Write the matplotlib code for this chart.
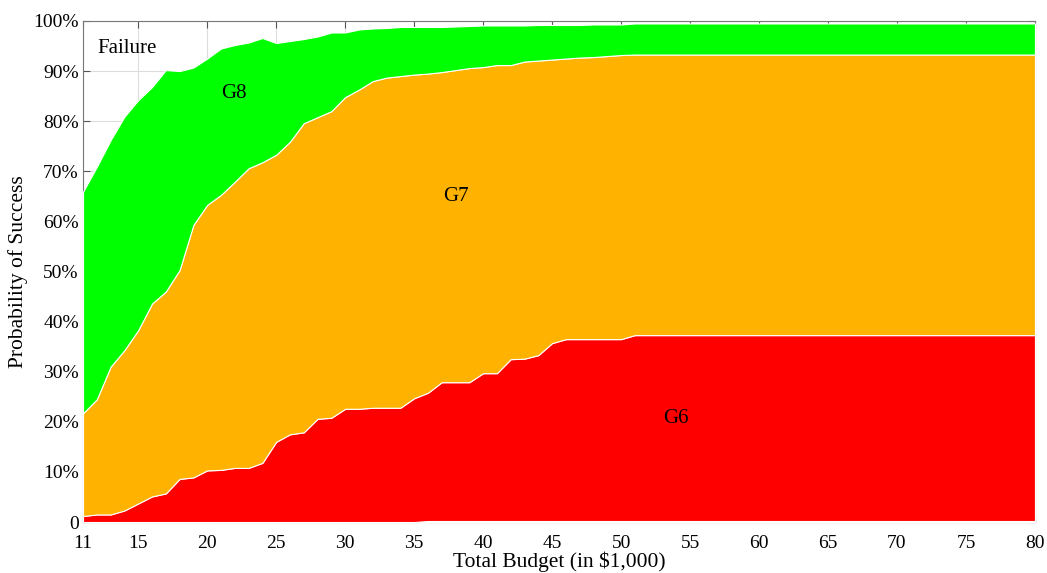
import matplotlib
matplotlib.use("Agg")
import matplotlib.pyplot as plt
import numpy as np

plt.rcParams['font.family'] = ['Liberation Serif', 'DejaVu Serif']

budget = list(range(11, 81))

# cumulative tops (percent)
g5_top = [0.0]*25 + [0.2]*45  # tiny bottom layer (x=11..35 zero)
g6_top = [1.2, 1.5, 1.5, 2.3, 3.7, 5.1, 5.7, 8.6, 8.9, 10.3,
          10.4, 10.8, 10.8, 11.8, 16.0, 17.5, 17.9, 20.6, 20.8, 22.6,
          22.6, 22.8, 22.8, 22.8, 24.7, 25.8, 27.9, 27.9, 27.9, 29.7,
          29.7, 32.5, 32.6, 33.3, 35.7, 36.5, 36.5, 36.5, 36.5, 36.5] + [37.3]*30
g7_top = [21.7, 24.5, 31.0, 34.3, 38.3, 43.6, 46.0, 50.3, 59.3, 63.3,
          65.3, 67.9, 70.6, 71.8, 73.3, 75.9, 79.6, 80.8, 82.0, 84.8,
          86.3, 88.0, 88.7, 89.0, 89.3, 89.5, 89.8, 90.2, 90.6, 90.8,
          91.2, 91.2, 91.9, 92.1, 92.3, 92.5, 92.7, 92.8, 93.0, 93.2] + [93.3]*30
g8_top = [65.9, 70.9, 76.2, 80.9, 84.2, 86.8, 90.2, 90.0, 90.7, 92.5,
          94.5, 95.2, 95.7, 96.6, 95.6, 96.0, 96.4, 96.9, 97.7, 97.7,
          98.3, 98.5, 98.6, 98.8, 98.8, 98.8, 98.8, 98.9, 99.0, 99.1,
          99.1, 99.1, 99.1, 99.2, 99.2, 99.2, 99.2, 99.3, 99.3, 99.3] + [99.5]*30

x = np.array(budget)
g5 = np.array(g5_top)
g6 = np.array(g6_top) - g5
g7 = np.array(g7_top) - np.array(g6_top)
g8 = np.array(g8_top) - np.array(g7_top)

fig = plt.figure(figsize=(10.47, 5.73), dpi=100)
ax = fig.add_axes([0.0793, 0.089, 0.9092, 0.8744])

ax.stackplot(x, g5, g6, g7, g8,
             colors=['#ff0000', '#ff0000', '#ffb200', '#00ff00'],
             edgecolor='white', linewidth=0.8, zorder=3)

ax.set_xlim(11, 80)
ax.set_ylim(0, 100)
xt = [11, 15, 20, 25, 30, 35, 40, 45, 50, 55, 60, 65, 70, 75, 80]
ax.set_xticks(xt)
ax.set_xticklabels([str(v) for v in xt])
yt = list(range(0, 101, 10))
ax.set_yticks(yt)
ax.set_yticklabels(['0'] + [f'{v}%' for v in yt[1:]])
ax.tick_params(direction='in', top=True, right=True, labelsize=14,
               color='#555555', length=5)
ax.tick_params(axis='x', pad=9)
ax.tick_params(axis='y', pad=3)
ax.grid(True, color='#dddddd', linewidth=0.8, zorder=0)
ax.set_axisbelow(True)
for s in ax.spines.values():
    s.set_color('#777777')
    s.set_zorder(2)

ax.set_xlabel('Total Budget (in $1,000)', fontsize=15.5, labelpad=0)
ax.set_ylabel('Probability of Success', fontsize=15.5, labelpad=4)

ax.text(14.2, 94.6, 'Failure', fontsize=15, ha='center', va='center', zorder=5)
ax.text(21.9, 85.6, 'G8', fontsize=15, ha='center', va='center', zorder=5)
ax.text(38.0, 64.9, 'G7', fontsize=15, ha='center', va='center', zorder=5)
ax.text(54.0, 20.6, 'G6', fontsize=15, ha='center', va='center', zorder=5)

fig.savefig('out.png', dpi=100)
